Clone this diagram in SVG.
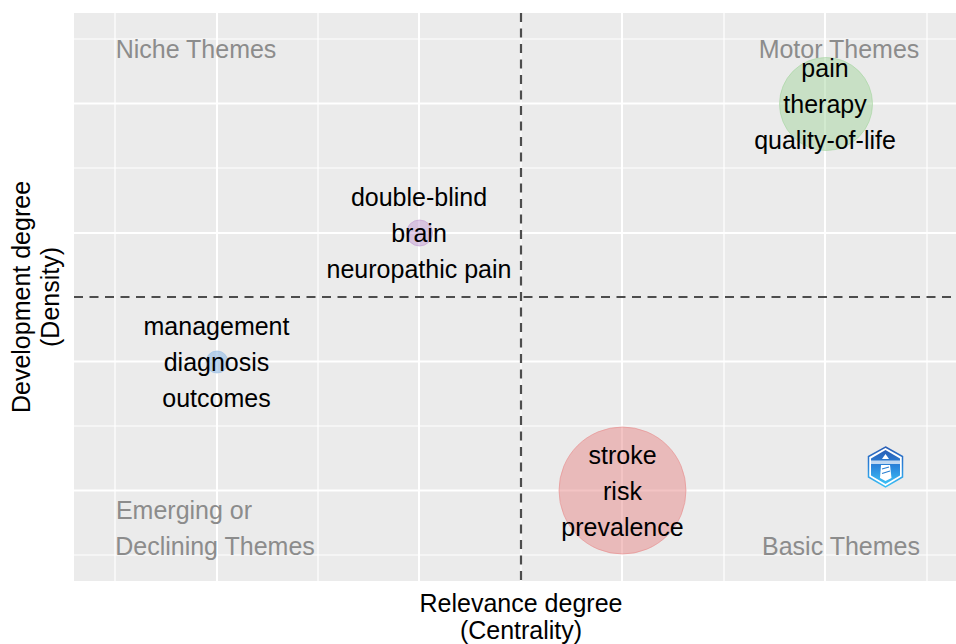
<svg xmlns="http://www.w3.org/2000/svg" width="956" height="644" viewBox="0 0 956 644">
<style>
text{font-family:"Liberation Sans",Arial,sans-serif;text-anchor:middle;font-size:25px}
.maj{stroke:#fff;stroke-width:2;fill:none}
.min{stroke:#fff;stroke-width:1.2;fill:none}
.dash{stroke:#4d4d4d;stroke-width:2.200;stroke-dasharray:9 6.500;fill:none}
.theme{fill:#8c8c8c}
.lab{fill:#000}
.axis{fill:#000}
</style>
<defs>
<linearGradient id="lg" x1="0" y1="0" x2="0" y2="1"><stop offset="0" stop-color="#2b5fb5"/><stop offset=".5" stop-color="#2a86dc"/><stop offset="1" stop-color="#3cc0f5"/></linearGradient>
</defs>
<rect width="956" height="644" fill="#fff"/>
<g id="panel">
<rect x="74" y="13" width="882" height="568" fill="#ebebeb"/>
<path class="min" d="M115 13V581M318 13V581M521 13V581M724 13V581M927 13V581M74 39H956M74 168H956M74 426H956M74 555H956"/>
<path class="maj" d="M217 13V581M419 13V581M622 13V581M825 13V581M74 103.500H956M74 233H956M74 361.500H956M74 490.500H956"/>
</g>
<g id="connectors">
<line class="dash" x1="521" y1="13" x2="521" y2="581"/>
<line class="dash" x1="74" y1="297" x2="956" y2="297"/>
</g>
<g id="quadrant-labels">
<text class="theme" x="196" y="58">Niche Themes</text>
<text class="theme" x="839" y="58">Motor Themes</text>
<text class="theme" x="184" y="519">Emerging or</text>
<text class="theme" x="215" y="555">Declining Themes</text>
<text class="theme" x="841" y="555">Basic Themes</text>
</g>
<g id="node-motor">
<circle cx="826" cy="104" r="46.500" fill="#a5d6a0" fill-opacity=".5" stroke="#a5d6a0" stroke-opacity=".6"/>
<text class="lab" x="825" y="77">pain</text>
<text class="lab" x="825" y="113">therapy</text>
<text class="lab" x="825" y="149">quality-of-life</text>
</g>
<g id="node-niche">
<circle cx="419.500" cy="233" r="13" fill="#c39bd3" fill-opacity=".5" stroke="#c39bd3" stroke-opacity=".6"/>
<text class="lab" x="419" y="206">double-blind</text>
<text class="lab" x="419" y="242">brain</text>
<text class="lab" x="419" y="278">neuropathic pain</text>
</g>
<g id="node-emerging">
<circle cx="217" cy="362" r="11" fill="#9fc2e6" fill-opacity=".7" stroke="#9fc2e6" stroke-opacity=".7"/>
<text class="lab" x="216.500" y="335">management</text>
<text class="lab" x="216.500" y="371">diagnosis</text>
<text class="lab" x="216.500" y="407">outcomes</text>
</g>
<g id="node-basic">
<circle cx="622.500" cy="490.500" r="63.500" fill="#e88a8a" fill-opacity=".5" stroke="#e88a8a" stroke-opacity=".6"/>
<text class="lab" x="622.500" y="464">stroke</text>
<text class="lab" x="622.500" y="500">risk</text>
<text class="lab" x="622.500" y="536">prevalence</text>
</g>
<g id="logo">
<polygon points="885.500,447 902.500,456.500 902.500,477 885.500,487 868.500,477 868.500,456.500" fill="#fff" stroke="url(#lg)" stroke-width="1.500"/>
<polygon points="885.500,450 900,458.500 900,475.500 885.500,484 871,475.500 871,458.500" fill="url(#lg)"/>
<rect x="870.500" y="460.500" width="30" height="3.500" fill="#fff" opacity=".7"/>
<path d="M885.500 454L889 459H882Z" fill="#fff"/>
<path d="M881 465H890L891.500 478L885.500 481L880 478Z" fill="#fff"/>
<path d="M882 469L889 467M882 473.500L890 471" stroke="#2a7fd0" stroke-width="1.200" fill="none"/>
</g>
<g id="axes">
<text class="axis" x="521" y="612">Relevance degree</text>
<text class="axis" x="521" y="639">(Centrality)</text>
<text class="axis" transform="translate(30 297) rotate(-90)">Development degree</text>
<text class="axis" transform="translate(59 297) rotate(-90)">(Density)</text>
</g>
</svg>
